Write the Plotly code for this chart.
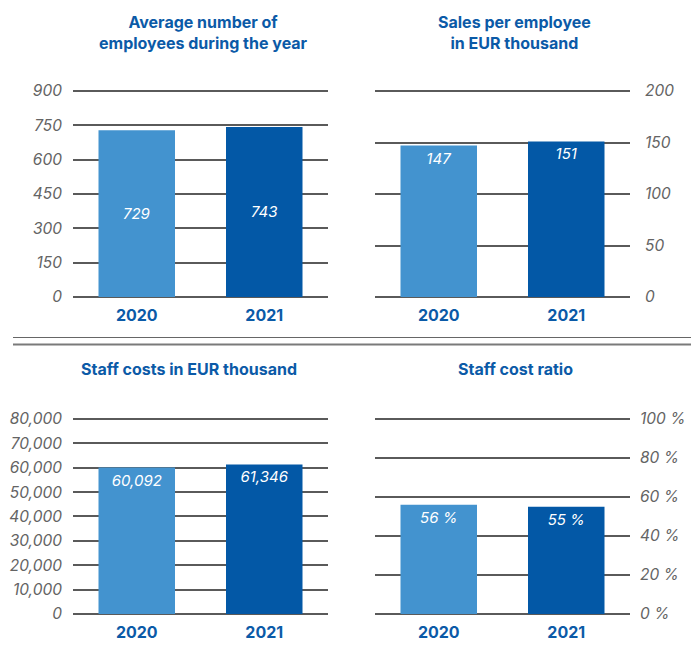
import plotly.graph_objects as go
from plotly.subplots import make_subplots

years = ["2020", "2021"]
employees = [729, 743]
sales_per_employee = [147, 151]
staff_costs = [60092, 61346]
staff_cost_ratio = [56, 55]

employees_ticks = [0, 150, 300, 450, 600, 750, 900]
sales_ticks = [0, 50, 100, 150, 200]
costs_ticks = [0, 10000, 20000, 30000, 40000, 50000, 60000, 70000, 80000]
ratio_ticks = [0, 20, 40, 60, 80, 100]
ratio_tick_labels = ["0 %", "20 %", "40 %", "60 %", "80 %", "100 %"]

titles = ["Average number of<br>employees during the year",
          "Sales per employee<br>in EUR thousand",
          "Staff costs in EUR thousand",
          "Staff cost ratio"]

LIGHT = "#4393cf"
DARK = "#0358a6"
TITLE_BLUE = "#0b5aa7"
GRID = "#5a5a5a"
TICK = "#646464"
FONT = "Inter"
PAD = 1.015

fig = make_subplots(rows=2, cols=2)

W, H = 696, 648
xd = [[73 / W, 328 / W], [375 / W, 630 / W]]

def ydom(bottom_px, top_px):
    top_ext = bottom_px - (bottom_px - top_px) * PAD
    return [1 - bottom_px / H, 1 - top_ext / H]

yd = [ydom(297, 91), ydom(614, 419)]

def add_bars(row, col, vals, texts, anchor):
    fig.add_trace(go.Bar(
        x=years, y=vals, marker=dict(color=[LIGHT, DARK], line=dict(width=0)),
        text=texts, textposition="inside", insidetextanchor=anchor,
        textangle=0,
        textfont=dict(family=FONT, size=15, color="white", style="italic"),
        showlegend=False, hoverinfo="skip"), row=row, col=col)

add_bars(1, 1, employees, [f"{v}" for v in employees], "middle")
add_bars(1, 2, sales_per_employee, [f"{v}" for v in sales_per_employee], "end")
add_bars(2, 1, staff_costs, [f"{v:,}" for v in staff_costs], "end")
add_bars(2, 2, staff_cost_ratio, [f"{v} %" for v in staff_cost_ratio], "end")

axes_cfg = [
    (1, 1, employees_ticks, [str(t) for t in employees_ticks], "left", xd[0], yd[0], 10),
    (1, 2, sales_ticks, [str(t) for t in sales_ticks], "right", xd[1], yd[0], 14),
    (2, 1, costs_ticks, [f"{t:,}" for t in costs_ticks], "left", xd[0], yd[1], 10),
    (2, 2, ratio_ticks, ratio_tick_labels, "right", xd[1], yd[1], 9),
]

for row, col, tv, tt, side, xdom, ydm, so in axes_cfg:
    fig.update_xaxes(domain=xdom, showgrid=False, showline=False, zeroline=False,
                     ticks="", ticklabelstandoff=7, automargin=False,
                     tickfont=dict(family=FONT, size=16, color=TITLE_BLUE, weight="bold"),
                     row=row, col=col)
    fig.update_yaxes(domain=ydm, range=[0, tv[-1] * PAD], tickvals=tv, ticktext=tt,
                     side=side, showgrid=True, gridcolor=GRID, gridwidth=1.5,
                     zeroline=True, zerolinecolor=GRID, zerolinewidth=1.5,
                     showline=False, ticks="", ticklabelstandoff=so, automargin=False,
                     tickfont=dict(family=FONT, size=15.5, color=TICK, style="italic"),
                     row=row, col=col)

title_pos = [(204, 32), (514, 32), (189, 369), (515, 369)]
for (cx, cy), t in zip(title_pos, titles):
    fig.add_annotation(x=cx / W, y=1 - cy / H, xref="paper", yref="paper",
                       text=t, showarrow=False, xanchor="center", yanchor="middle",
                       font=dict(family=FONT, size=16, color=TITLE_BLUE, weight="bold"))

fig.add_shape(type="line", xref="paper", yref="paper", x0=13 / W, x1=691 / W,
              y0=1 - 337.5 / H, y1=1 - 337.5 / H, line=dict(color="#666666", width=1))
fig.add_shape(type="line", xref="paper", yref="paper", x0=13 / W, x1=691 / W,
              y0=1 - 344.5 / H, y1=1 - 344.5 / H, line=dict(color="#7a7a7a", width=2))

fig.update_layout(width=W, height=H, margin=dict(l=0, r=0, t=0, b=0, autoexpand=False),
                  paper_bgcolor="white", plot_bgcolor="white",
                  bargap=0.4, font=dict(family=FONT))

fig.write_html("out.html", config={"displayModeBar": False},
               post_script="document.body.style.margin='0';")
